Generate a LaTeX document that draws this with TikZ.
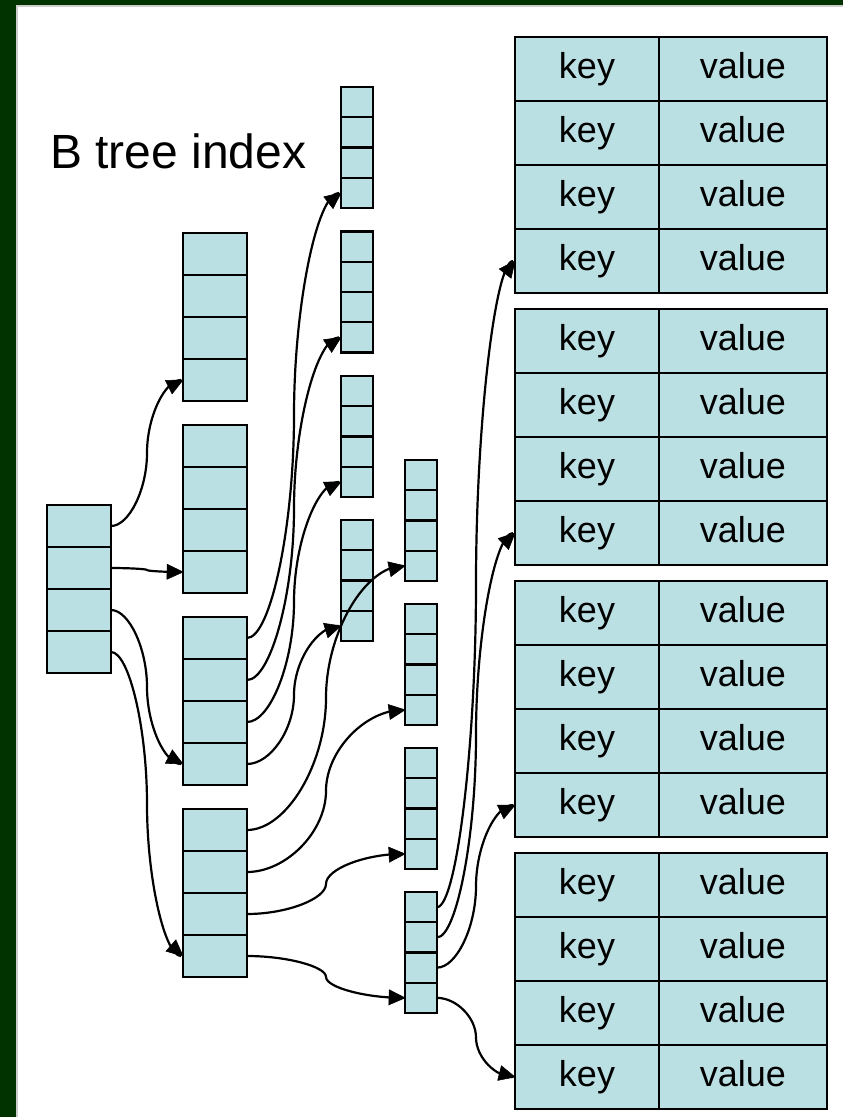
\documentclass[tikz,border=0pt]{standalone}
\usepackage{fontspec}
\setmainfont{Liberation Sans}
\usetikzlibrary{arrows.meta,calc,decorations.markings}
\definecolor{cellfill}{RGB}{187,224,227}
\definecolor{framegreen}{RGB}{0,51,0}
\definecolor{edgegray}{RGB}{205,205,205}
\newcommand\mystack[5]{%
  \foreach \i in {1,...,4}{%
    \node[cell, minimum width=#4pt, minimum height=#5pt] (#1\i) at (#2,{#3+(\i-1)*#5}) {};
  }%
}
\newcommand\myconn[2]{%
  \path[decorate, decoration={markings, mark=at position -16pt with {\coordinate (tmpq);}}]
    let \p1=(#1.east), \p2=(#2.west) in
    (\p1) .. controls ({0.75*\x1+0.25*\x2},\y1) and ({0.5*\x1+0.5*\x2},{0.75*\y1+0.25*\y2})
    .. ({0.5*\x1+0.5*\x2},{0.5*\y1+0.5*\y2})
    .. controls ({0.5*\x1+0.5*\x2},{0.25*\y1+0.75*\y2}) and ({0.25*\x1+0.75*\x2},\y2)
    .. (\p2);%
  \draw[arr] let \p1=(#1.east), \p2=(#2.west) in
    (\p1) .. controls ({0.75*\x1+0.25*\x2},\y1) and ({0.5*\x1+0.5*\x2},{0.75*\y1+0.25*\y2})
    .. ({0.5*\x1+0.5*\x2},{0.5*\y1+0.5*\y2})
    .. controls ({0.5*\x1+0.5*\x2},{0.25*\y1+0.75*\y2}) and ({0.25*\x1+0.75*\x2},\y2)
    .. (\p2);%
  \fill[arrowhead] (#2.west) -- ($(#2.west)!17.64pt!25.2:(tmpq)$)
    -- ($(#2.west)!17.64pt!-25.2:(tmpq)$) -- cycle;%
}
\begin{document}
\begin{tikzpicture}[x=1pt,y=-1pt,
  cell/.style={draw=black, fill=cellfill, line width=2.3pt, inner sep=0pt, outer sep=0pt, anchor=north west},
  kvcell/.style={cell, line width=1.8pt, minimum height=64pt, text height=26pt, text depth=7.5pt,
    font=\fontsize{36}{43}\selectfont},
  kcell/.style={kvcell, minimum width=144pt},
  vcell/.style={kvcell, minimum width=168pt},
  arr/.style={line width=2.2pt, shorten >=2pt},
  arrowhead/.style={fill=black, draw=black, line width=0.6pt, line join=miter}]
\useasboundingbox (0,0) rectangle (843,1117);
\fill[white] (0,0) rectangle (843,1117);
% frame
\fill[framegreen] (0,0) rectangle (16,1117);
\fill[framegreen] (0,0) rectangle (843,5);
\draw[edgegray, line width=2pt] (17,6) -- (17,1117);
\draw[edgegray, line width=2pt] (16,6) -- (843,6);
% title
\node[anchor=base west, inner sep=0pt, font=\fontsize{48}{56}\selectfont] (title) at (50,168) {B tree index};
% stacks
\mystack{r}{47}{505}{64}{42}
\mystack{a}{183}{233}{64}{42}
\mystack{b}{183}{425}{64}{42}
\mystack{c}{183}{617}{64}{42}
\mystack{d}{183}{809}{64}{42}
\mystack{na}{341}{87}{32}{30.25}
\mystack{nb}{341}{231.5}{32}{30.25}
\mystack{nc}{341}{376}{32}{30.25}
\mystack{nd}{341}{520}{32}{30.25}
\mystack{ma}{405}{460}{32}{30.25}
\mystack{mb}{405}{604}{32}{30.25}
\mystack{mc}{405}{748}{32}{30.25}
\mystack{md}{405}{892}{32}{30.25}
% key/value table
\foreach \g in {0,...,3}{%
  \foreach \r in {1,...,4}{%
    \pgfmathtruncatemacro\idx{\g*4+\r}%
    \node[kcell] (k\idx) at (515,{37+\g*272+(\r-1)*64}) {key};
    \node[vcell] (v\idx) at (659,{37+\g*272+(\r-1)*64}) {value};
  }%
}
% connectors
\myconn{r1}{a4}
\myconn{r2}{b4}
\myconn{r3}{c4}
\myconn{r4}{d4}
\myconn{c1}{na4}
\myconn{c2}{nb4}
\myconn{c3}{nc4}
\myconn{c4}{nd4}
\myconn{d1}{ma4}
\myconn{d2}{mb4}
\myconn{d3}{mc4}
\myconn{d4}{md4}
\myconn{md1}{k4}
\myconn{md2}{k8}
\myconn{md3}{k12}
\myconn{md4}{k16}
\end{tikzpicture}
\end{document}
